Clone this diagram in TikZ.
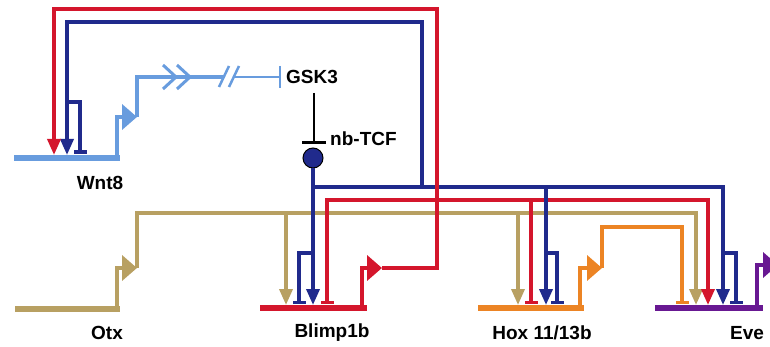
\documentclass[tikz,border=0pt]{standalone}
\usepackage{fontspec}
\setmainfont{Liberation Sans}
\usetikzlibrary{arrows.meta}
\definecolor{lblue}{RGB}{104,156,222}
\definecolor{dblue}{RGB}{32,42,140}
\definecolor{rred}{RGB}{212,22,44}
\definecolor{gold}{RGB}{184,160,98}
\definecolor{orng}{RGB}{236,132,36}
\definecolor{purp}{RGB}{104,24,146}
\tikzset{
  baseln/.style={line width=5.5pt},
  reg/.style={line width=3.5pt},
  act/.style={reg,-{Triangle[width=13pt,length=16pt]}},
  inh/.style={reg,-{Bar[width=13pt]}},
  prom/.style={line width=4pt,-{Triangle[width=25pt,length=15pt]}},
  lbl/.style={font=\fontsize{19}{21}\selectfont\bfseries,inner sep=0pt}
}
\begin{document}
\begin{tikzpicture}[x=1pt,y=-1pt]
\useasboundingbox (0,0) rectangle (770,347);
\clip (0,0) rectangle (770,347);
% ---------- gene coordinates ----------
\coordinate (wntL) at (14,158);  \coordinate (wntR) at (120,158);
\coordinate (otxL) at (15,309);  \coordinate (otxR) at (120,309);
\coordinate (blpL) at (260,308); \coordinate (blpR) at (367,308);
\coordinate (hoxL) at (478,308); \coordinate (hoxR) at (584,308);
\coordinate (eveL) at (655,308); \coordinate (eveR) at (763,308);
% promoter tips
\coordinate (wntP) at (137,117);
\coordinate (otxP) at (137,268);
\coordinate (blpP) at (382,268);
\coordinate (hoxP) at (602,268);
\coordinate (eveP) at (778,265);
% labels
\node[lbl] (wntT) at (100,183) {Wnt8};
\node[lbl] (otxT) at (107,333) {Otx};
\node[lbl] (blpT) at (332,333) {Blimp1b};
\node[lbl] (hoxT) at (542,333) {Hox 11/13b};
\node[lbl] (eveT) at (747,333) {Eve};
\node[lbl,anchor=west] (gsk) at (286,77) {GSK3};
\node[lbl,anchor=west] (tcfT) at (330,139) {nb-TCF};
% ---------- baselines ----------
\draw[lblue,baseln] (wntL) -- (wntR);
\draw[gold,baseln] (otxL) -- (otxR);
\draw[rred,baseln] (blpL) -- (blpR);
\draw[orng,baseln] (hoxL) -- (hoxR);
\draw[purp,baseln] (eveL) -- (eveR);
% ---------- promoters ----------
\draw[lblue,prom] (117,158) -- (117,117) -- (wntP);
\draw[gold,prom] (117,309) -- (117,268) -- (otxP);
\draw[rred,prom] (362,308) -- (362,268) -- (blpP);
\draw[orng,prom] (580,308) -- (580,268) -- (hoxP);
\draw[purp,prom] (757,308) -- (757,265) -- (eveP);
% ---------- Wnt8 output ----------
\coordinate (gskbar) at (281,77);
\draw[lblue,line width=3.5pt] (wntP) -- (137,77) -- (224,77);
\draw[lblue,line width=3pt] (163,65) -- (176,77) -- (163,89);
\draw[lblue,line width=3pt] (177,65) -- (190,77) -- (177,89);
\draw[lblue,line width=2.5pt] (219,87) -- (229,66);
\draw[lblue,line width=2.5pt] (229,87) -- (239,66);
\draw[lblue,line width=2.5pt,-{Bar[width=22pt]}] (234,77) -- (gskbar);
% GSK3 -| nb-TCF
\node[circle,fill=dblue,draw=black,line width=1pt,minimum size=20pt,inner sep=0pt] (tcf) at (313,158) {};
\draw[black,line width=2.5pt,-{Bar[width=24pt]}] (314,93) -- (314,144);
% ---------- Otx output (gold) ----------
\draw[gold,act] (otxP) -- (137,213) -- (696,213) -- (696,305);
\draw[gold,act] (286,213) -- (286,305);
\draw[gold,act] (518,213) -- (518,305);
% ---------- nb-TCF output (dark blue) ----------
\draw[dblue,act] (tcf.south) -- (313,305);
\draw[dblue,act] (313,187) -- (723,187) -- (723,305);
\draw[dblue,act] (422,187) -- (422,22) -- (67,22) -- (67,155);
\draw[dblue,inh] (67,102) -- (80,102) -- (80,154);
\draw[dblue,inh] (313,253) -- (299,253) -- (299,304);
\draw[dblue,inh] (723,253) -- (736,253) -- (736,304);
% ---------- Blimp1b output (red) ----------
\draw[rred,act] (blpP) -- (437,268) -- (437,9) -- (54,9) -- (54,155);
\draw[rred,reg,{Bar[width=13pt]}-{Triangle[width=13pt,length=16pt]}] (327,304) -- (327,200) -- (708,200) -- (708,305);
\draw[rred,inh] (531,200) -- (531,304);
% Hox dark blue input on top
\draw[dblue,act] (546,187) -- (546,305);
\draw[dblue,inh] (546,253) -- (557,253) -- (557,304);
% ---------- Hox output (orange) ----------
\draw[orng,inh] (hoxP) -- (602,227) -- (682,227) -- (682,304);
\end{tikzpicture}
\end{document}
